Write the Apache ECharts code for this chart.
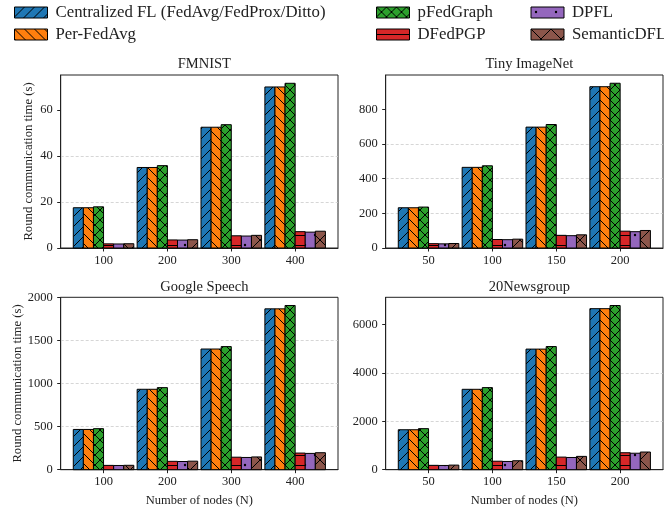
<!DOCTYPE html>
<html>
<head>
<meta charset="utf-8">
<script src="https://cdn.jsdelivr.net/npm/echarts@6/dist/echarts.min.js"></script>
<style>html,body{margin:0;padding:0;background:#fff}#c{width:664px;height:512px}</style>
</head>
<body>
<div id="c"></div>
<script>
// ---------- data ----------
const methods = ['Centralized FL (FedAvg/FedProx/Ditto)', 'Per-FedAvg', 'pFedGraph', 'DFedPGP', 'DPFL', 'SemanticDFL'];
const panelTitles = ['FMNIST', 'Tiny ImageNet', 'Google Speech', '20Newsgroup'];
const catsLeft = ['100', '200', '300', '400'];
const catsRight = ['50', '100', '150', '200'];

const fmnistCentral   = [17.5, 35.0, 52.5, 70.0];
const fmnistPerFedAvg = [17.5, 35.0, 52.5, 70.0];
const fmnistPFedGraph = [17.9, 35.8, 53.6, 71.6];
const fmnistDFedPGP   = [1.8, 3.5, 5.3, 7.1];
const fmnistDPFL      = [1.75, 3.45, 5.2, 6.9];
const fmnistSemantic  = [1.85, 3.6, 5.5, 7.3];

const tinyCentral   = [232, 465, 697, 930];
const tinyPerFedAvg = [232, 465, 697, 930];
const tinyPFedGraph = [236, 474, 712, 950];
const tinyDFedPGP   = [25, 49, 73, 97];
const tinyDPFL      = [24, 48, 71, 94];
const tinySemantic  = [26, 51, 76, 101];

const speechCentral   = [467, 933, 1400, 1866];
const speechPerFedAvg = [467, 933, 1400, 1866];
const speechPFedGraph = [476, 952, 1428, 1905];
const speechDFedPGP   = [50, 97, 145, 193];
const speechDPFL      = [49, 95, 142, 189];
const speechSemantic  = [51, 99, 148, 197];

const newsCentral   = [1650, 3320, 4980, 6650];
const newsPerFedAvg = [1650, 3320, 4980, 6650];
const newsPFedGraph = [1695, 3390, 5085, 6780];
const newsDFedPGP   = [180, 350, 520, 700];
const newsDPFL      = [175, 340, 505, 680];
const newsSemantic  = [190, 370, 550, 730];

const yTicksFmnist = [0, 20, 40, 60];
const yTicksTiny   = [0, 200, 400, 600, 800];
const yTicksSpeech = [0, 500, 1000, 1500, 2000];
const yTicksNews   = [0, 2000, 4000, 6000];

// ---------- assembled ----------
const panelData = [
  [fmnistCentral, fmnistPerFedAvg, fmnistPFedGraph, fmnistDFedPGP, fmnistDPFL, fmnistSemantic],
  [tinyCentral, tinyPerFedAvg, tinyPFedGraph, tinyDFedPGP, tinyDPFL, tinySemantic],
  [speechCentral, speechPerFedAvg, speechPFedGraph, speechDFedPGP, speechDPFL, speechSemantic],
  [newsCentral, newsPerFedAvg, newsPFedGraph, newsDFedPGP, newsDPFL, newsSemantic]
];
const panelCats = [catsLeft, catsRight, catsLeft, catsRight];
const panelTicks = [yTicksFmnist, yTicksTiny, yTicksSpeech, yTicksNews];
const panelYMax = [75.2, 997.5, 2000, 7119];

const colors = ['#1f77b4', '#ff7f0e', '#2ca02c', '#d62728', '#9467bd', '#8c564b'];
const hatches = ['/', '\\', 'x', '-', '.', 'X'];

function makePattern(color, hatch) {
  const s = (hatch === '.' || hatch === 'X') ? 20 : 10;
  const c = document.createElement('canvas');
  c.width = s; c.height = s;
  const g = c.getContext('2d');
  g.fillStyle = color; g.fillRect(0, 0, s, s);
  g.strokeStyle = '#000'; g.fillStyle = '#000'; g.lineWidth = 1;
  function ne() {
    g.beginPath();
    g.moveTo(-2, s + 2); g.lineTo(s + 2, -2);
    g.moveTo(-2, 2); g.lineTo(2, -2);
    g.moveTo(s - 2, s + 2); g.lineTo(s + 2, s - 2);
    g.stroke();
  }
  function nw() {
    g.beginPath();
    g.moveTo(-2, -2); g.lineTo(s + 2, s + 2);
    g.moveTo(s - 2, -2); g.lineTo(s + 2, 2);
    g.moveTo(-2, s - 2); g.lineTo(2, s + 2);
    g.stroke();
  }
  if (hatch === '/') ne();
  else if (hatch === '\\') nw();
  else if (hatch === 'x' || hatch === 'X') { ne(); nw(); }
  else if (hatch === '-') { g.beginPath(); g.moveTo(0, 5.5); g.lineTo(s, 5.5); g.stroke(); }
  else if (hatch === '.') {
    g.beginPath(); g.arc(5, 5, 1.2, 0, Math.PI * 2); g.fill();
    g.beginPath(); g.arc(15, 15, 1.2, 0, Math.PI * 2); g.fill();
  }
  return { image: c, repeat: 'repeat' };
}
const patterns = colors.map((c, i) => makePattern(c, hatches[i]));

const FONT = 'Liberation Serif';
const TXT = '#222';
const grids = [
  { left: 60.7, top: 75, width: 277.3, height: 173 },
  { left: 385.7, top: 75, width: 277.3, height: 173 },
  { left: 60.7, top: 297.3, width: 277.3, height: 172.4 },
  { left: 385.7, top: 297.3, width: 277.3, height: 172.4 }
];
const xMin = -0.671, xMax = 3.671, barW = 0.158;

const option = {
  animation: false,
  backgroundColor: '#fff',
  grid: grids.map(g => Object.assign({ show: true, borderColor: TXT, borderWidth: 1, backgroundColor: 'transparent' }, g)),
  title: panelTitles.map((t, i) => ({
    text: t,
    left: grids[i].left + grids[i].width / 2,
    top: i < 2 ? 52 : 274.5,
    textAlign: 'center',
    textStyle: { fontFamily: FONT, fontSize: 14.5, fontWeight: 'normal', color: TXT }
  })),
  legend: [[0, 1, 9], [2, 3, 371], [4, 5, 525.5]].map(([a, b, left]) => ({
    orient: 'vertical',
    left: left,
    top: -1,
    padding: 5,
    itemWidth: 33,
    itemHeight: 11,
    itemGap: 5,
    selectedMode: false,
    textStyle: { fontFamily: FONT, fontSize: 16.8, color: TXT, padding: [0, 0, 0, 3] },
    data: [a, b].map(m => ({ name: methods[m], icon: 'rect', itemStyle: { color: patterns[m], borderColor: '#000', borderWidth: 1 } }))
  })),
  xAxis: grids.map((g, i) => ({
    type: 'value', gridIndex: i, min: xMin, max: xMax,
    splitLine: { show: false },
    axisLine: { show: true, onZero: false, lineStyle: { color: TXT, width: 1 } },
    axisTick: { show: true, customValues: [0, 1, 2, 3], length: 3.5, lineStyle: { color: TXT } },
    axisLabel: { customValues: [0, 1, 2, 3], formatter: v => panelCats[i][Math.round(v)], fontFamily: FONT, fontSize: 12.5, color: TXT, margin: 6 },
    name: i >= 2 ? 'Number of nodes (N)' : '',
    nameLocation: 'middle', nameGap: 25,
    nameTextStyle: { fontFamily: FONT, fontSize: 12.5, color: TXT }
  })),
  yAxis: grids.map((g, i) => ({
    type: 'value', gridIndex: i, min: 0, max: panelYMax[i],
    interval: panelTicks[i][1],
    splitLine: { show: true, showMinLine: false, showMaxLine: false, lineStyle: { color: '#cccccc', width: 0.8, type: [3, 2] } },
    axisLine: { show: true, onZero: false, lineStyle: { color: TXT, width: 1 } },
    axisTick: { show: true, customValues: panelTicks[i], length: 3.5, lineStyle: { color: TXT } },
    axisLabel: { customValues: panelTicks[i], formatter: v => String(v), fontFamily: FONT, fontSize: 12.5, color: TXT, margin: 8 },
    name: (i % 2 === 0) ? 'Round communication time (s)' : '',
    nameLocation: 'middle', nameGap: 26,
    nameTextStyle: { fontFamily: FONT, fontSize: 12.7, color: TXT }
  })),
  series: []
};

for (let p = 0; p < 4; p++) {
  for (let m = 0; m < 6; m++) {
    const off = (m - 2.5) * barW;
    option.series.push({
      type: 'custom',
      name: methods[m],
      xAxisIndex: p, yAxisIndex: p,
      itemStyle: { color: patterns[m], borderColor: '#000', borderWidth: 1 },
      encode: { x: 0, y: 1 },
      data: panelData[p][m].map((v, k) => [k, v]),
      renderItem: function (params, api) {
        const k = api.value(0), v = api.value(1);
        const a = api.coord([k + off - barW / 2, v]);
        const b = api.coord([k + off + barW / 2, 0]);
        return {
          type: 'rect',
          shape: { x: a[0], y: a[1], width: b[0] - a[0], height: b[1] - a[1] },
          style: { fill: patterns[m], stroke: '#000', lineWidth: 1 }
        };
      }
    });
  }
}

const chart = echarts.init(document.getElementById('c'), null, { renderer: 'canvas' });
chart.setOption(option);
</script>
</body>
</html>
